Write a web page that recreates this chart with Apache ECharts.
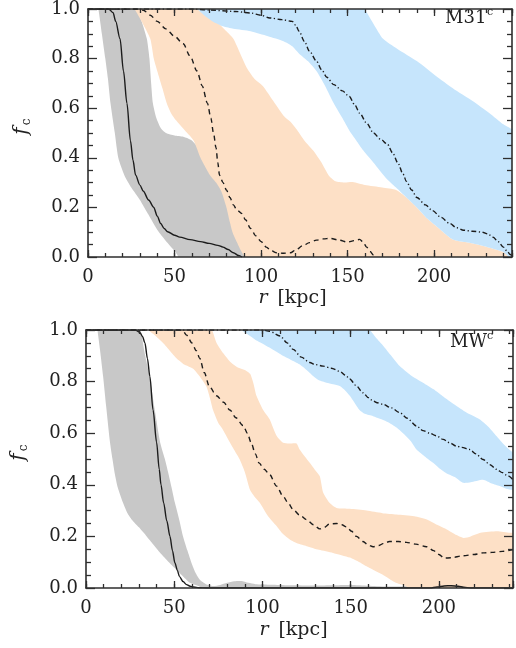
<!DOCTYPE html>
<html><head><meta charset="utf-8">
<script src="https://cdn.jsdelivr.net/npm/echarts@6/dist/echarts.min.js"></script>
<style>html,body{margin:0;padding:0;background:#fff}#c{width:516px;height:648px}</style>
</head><body><div id="c"></div>
<script>
// ---------- tick labels ----------
const xMajorTicks = [0, 50, 100, 150, 200];
const yMajorTicks = [0.0, 0.2, 0.4, 0.6, 0.8, 1.0];
const panelNames = ['M31', 'MW'];

// ---------- M31 panel (top) ----------
const m31Solid = [[0,1],[12,1],[14.5,0.985],[16,0.95],[18.5,0.88],[20.5,0.75],[22.5,0.62],[24.5,0.47],[26,0.39],[27.5,0.33],[30,0.29],[32,0.265],[35,0.23],[38,0.2],[40,0.165],[42,0.135],[44,0.115],[46,0.102],[50,0.088],[53,0.08],[59,0.07],[65,0.062],[70,0.055],[75,0.047],[78,0.04],[81,0.03],[84,0.017],[87,0.006],[89,0]];
const m31Dashed = [[0,1],[28,1],[32,0.995],[36,0.975],[40,0.95],[45,0.92],[50,0.89],[55,0.86],[59,0.81],[63,0.75],[66,0.69],[69,0.62],[71,0.56],[72.5,0.5],[74,0.44],[75,0.38],[76,0.33],[78,0.3],[80,0.27],[82,0.24],[84,0.21],[86,0.19],[89,0.175],[91,0.15],[94,0.115],[97,0.085],[100,0.062],[103,0.04],[106,0.025],[109,0.017],[113,0.015],[117,0.017],[120,0.028],[124,0.045],[128,0.058],[132,0.068],[136,0.073],[140,0.075],[145,0.068],[150,0.06],[154,0.066],[157,0.071],[159,0.06],[161,0.04],[163,0.022],[165,0.008],[167,0]];
const m31DashDot = [[0,1],[60,1],[70,0.996],[85,0.99],[94,0.984],[100,0.975],[105,0.964],[112,0.957],[118,0.95],[120,0.935],[122,0.91],[125,0.87],[128,0.83],[132,0.79],[135,0.755],[138,0.725],[142,0.695],[147,0.67],[151,0.647],[154,0.615],[157,0.58],[161,0.54],[165,0.5],[169,0.475],[173,0.455],[176,0.42],[179,0.38],[182,0.335],[184,0.305],[187,0.27],[190,0.24],[195,0.21],[199,0.187],[204,0.16],[209,0.135],[213,0.118],[217,0.108],[222,0.104],[228,0.1],[231,0.093],[234,0.08],[237,0.062],[240,0.04],[242,0.025],[244,0.01],[245,0.005]];
const m31GrayUpper = [[-2,1.02],[26,1.02],[28,1.0],[31,0.95],[34,0.88],[35.5,0.8],[36.5,0.7],[37.5,0.62],[39.5,0.56],[42,0.52],[45,0.5],[50,0.49],[55,0.485],[60,0.47],[66,0.42],[72,0.35],[78,0.28],[84,0.2],[88,0.12],[91,0.05],[93,-0.02]];
const m31GrayLower = [[-2,1.02],[5,1.02],[6,1.0],[8,0.9],[10,0.8],[11.5,0.72],[13,0.62],[15.5,0.5],[17.5,0.4],[21,0.33],[25,0.28],[30,0.23],[35,0.17],[40,0.11],[45,0.065],[50,0.025],[55,-0.02]];
const m31OrangeUpper = [[20,1.02],[66,1.02],[68,0.99],[74.5,0.95],[80,0.91],[84,0.88],[88,0.82],[92,0.76],[96,0.72],[101,0.69],[107,0.63],[113,0.57],[117,0.545],[121,0.51],[125,0.47],[130,0.43],[135,0.38],[139,0.33],[143,0.305],[148,0.3],[153,0.302],[160,0.29],[170,0.28],[178,0.27],[184,0.24],[190,0.2],[196,0.155],[202,0.12],[207,0.09],[211,0.07],[218,0.06],[225,0.05],[233,0.035],[240,0.02],[247,0.0],[247,-0.02]];
const m31OrangeLower = [[20,1.02],[26,1.02],[27,1.0],[31,0.95],[36,0.88],[38,0.8],[40,0.75],[43,0.68],[45.5,0.62],[48,0.58],[51,0.55],[56,0.51],[61,0.47],[65,0.4],[68,0.36],[70.5,0.33],[74,0.3],[77,0.265],[80,0.2],[82,0.14],[83.5,0.1],[86,0.06],[88,0.03],[90,0.005],[92,-0.02]];
const m31BlueUpper = [[60,1.02],[159,1.02],[160,1.0],[165,0.94],[170.5,0.88],[178.6,0.84],[190,0.79],[202,0.725],[213,0.67],[222,0.63],[232,0.58],[240,0.535],[247,0.5]];
const m31BlueLower = [[60,1.02],[63,1.0],[68,0.97],[72,0.95],[78,0.93],[84,0.92],[94,0.91],[104,0.89],[113,0.87],[118,0.85],[122,0.82],[127,0.79],[132,0.75],[137,0.69],[142,0.62],[147,0.56],[151,0.51],[155,0.47],[159,0.43],[165,0.38],[172,0.32],[178,0.28],[184,0.24],[190,0.2],[196,0.155],[202,0.12],[207,0.09],[211,0.07],[218,0.06],[225,0.05],[233,0.035],[240,0.02],[247,-0.02]];

// ---------- MW panel (bottom) ----------
const mwSolid = [[0,1],[28,1],[30.6,0.99],[32,0.975],[33.4,0.95],[34.8,0.89],[36.2,0.82],[38,0.69],[40,0.565],[41.5,0.46],[42.5,0.4],[44,0.33],[45.8,0.26],[47.6,0.2],[49,0.145],[50.4,0.097],[51.8,0.068],[53,0.044],[55,0.025],[57,0.013],[59,0.007],[61,0.004],[64,0.001],[68,0],[195,0],[199,0.004],[203,0.008],[207,0.009],[211,0.007],[214,0.003],[218,0],[242,0]];
const mwDashed = [[0,1],[53,1],[55,0.995],[57,0.98],[60,0.95],[62.5,0.92],[64.5,0.89],[67,0.835],[70,0.78],[74,0.745],[78,0.72],[81.5,0.69],[85,0.66],[89,0.63],[91.5,0.6],[93.5,0.565],[96,0.52],[98,0.485],[101,0.46],[104,0.44],[108,0.395],[111.7,0.356],[114.5,0.33],[117.4,0.304],[121,0.283],[125,0.265],[129,0.245],[132.5,0.229],[135,0.235],[138,0.248],[142,0.25],[145,0.245],[147.6,0.237],[150.5,0.22],[153.3,0.2],[157,0.18],[160,0.166],[162.7,0.16],[166,0.165],[169,0.174],[172,0.18],[177,0.18],[181.6,0.177],[187,0.17],[193,0.16],[197,0.145],[200,0.13],[203,0.116],[207,0.117],[213.6,0.125],[220,0.13],[225,0.136],[230,0.138],[236,0.142],[242,0.149]];
const mwDashDot = [[0,1],[100,1],[104,0.995],[110,0.977],[114,0.95],[117.4,0.925],[122,0.895],[126.8,0.874],[130,0.866],[134.4,0.86],[139,0.852],[143.8,0.84],[147,0.825],[149.5,0.81],[153,0.785],[157,0.757],[160,0.738],[162.7,0.725],[165,0.718],[168.3,0.712],[173,0.698],[177.8,0.68],[182,0.658],[187.3,0.628],[191,0.61],[194.8,0.6],[198.5,0.59],[202.4,0.576],[206,0.563],[209.9,0.55],[213,0.545],[217.4,0.537],[221,0.52],[225,0.498],[229,0.478],[232.6,0.46],[236,0.447],[239,0.435],[242,0.42]];
const mwGrayUpper = [[-2,1.02],[29.6,1.02],[31,1.0],[33,0.92],[36,0.82],[39,0.69],[42,0.565],[44.7,0.5],[46.5,0.45],[48.5,0.39],[50.4,0.33],[53,0.26],[55,0.2],[57.5,0.145],[59.8,0.097],[62,0.06],[64.5,0.032],[68,0.015],[72,0.008],[76,0.012],[80,0.02],[84,0.026],[88,0.027],[92,0.02],[96,0.015],[105,0.013],[115,0.011],[130,0.01],[140,0.011],[150,0.012],[160,0.009],[170,0.006],[185,0.007],[200,0.01],[210,0.012],[220,0.007],[230,0.004],[244,0.003],[244,-0.02]];
const mwGrayLower = [[-2,1.02],[6,1.02],[6.5,1.0],[8,0.92],[9.7,0.82],[11.5,0.7],[13.6,0.565],[15,0.5],[16.4,0.44],[18,0.39],[21,0.33],[23.5,0.29],[26,0.265],[30,0.235],[34.4,0.2],[38,0.17],[42,0.137],[47,0.1],[51.4,0.07],[55,0.045],[59,0.02],[64.5,0.005],[68,-0.02]];
const mwOrangeUpper = [[25,1.02],[70,1.02],[71.5,1.0],[74,0.95],[77.8,0.91],[82,0.875],[86,0.855],[90,0.845],[93,0.83],[95,0.79],[96.6,0.745],[100.4,0.69],[104,0.655],[108,0.59],[111.7,0.563],[115,0.56],[119.3,0.56],[121,0.538],[124,0.51],[126.8,0.485],[129.5,0.46],[132.5,0.433],[134.4,0.37],[138,0.33],[142,0.31],[149.5,0.307],[159,0.3],[168,0.29],[176,0.285],[186,0.278],[193.5,0.265],[199,0.245],[204.8,0.226],[210,0.205],[214,0.194],[218,0.2],[223.6,0.214],[233,0.22],[240.4,0.214],[246,0.21],[246,-0.02]];
const mwOrangeLower = [[25,1.02],[34.4,1.02],[35.5,1.0],[39,0.98],[43.7,0.95],[47.5,0.92],[51.4,0.89],[56,0.865],[60.7,0.85],[64.5,0.82],[68.3,0.78],[70.5,0.73],[72,0.69],[75,0.64],[77,0.62],[81.5,0.565],[84,0.535],[87,0.5],[90,0.45],[93,0.38],[96,0.35],[98.5,0.33],[103,0.28],[108,0.24],[111.5,0.21],[115.5,0.188],[120,0.172],[125,0.162],[132,0.148],[140,0.136],[149.5,0.118],[155,0.1],[159,0.084],[164,0.066],[168,0.052],[172,0.035],[176,0.019],[181.6,0.006],[186,-0.02]];
const mwBlueUpper = [[85,1.02],[159,1.02],[161,1.0],[165,0.965],[168.3,0.94],[173,0.9],[177.8,0.86],[184,0.825],[191,0.796],[197,0.77],[202,0.744],[209,0.71],[215.6,0.68],[223,0.654],[228,0.625],[232.6,0.589],[237,0.555],[242,0.524],[247,0.5]];
const mwBlueLower = [[85,1.02],[88,1.0],[93,0.977],[97,0.958],[102.3,0.938],[107,0.92],[111.7,0.9],[116,0.885],[121,0.867],[125,0.845],[128.7,0.822],[132,0.805],[136.3,0.796],[140,0.79],[143.8,0.783],[147,0.765],[149.5,0.745],[152,0.72],[155,0.69],[158,0.675],[162.7,0.666],[167,0.655],[172,0.64],[176,0.622],[179.7,0.6],[184,0.57],[187.3,0.537],[192,0.51],[196.7,0.485],[200,0.465],[204,0.446],[209,0.43],[213.6,0.408],[218,0.41],[225,0.42],[230,0.405],[234.4,0.395],[238,0.385],[242,0.38],[247,0.372]];

// ---------- styling ----------
const FONT = 'DejaVu Serif';
const AX = '#2e2e2e';
const GRAY = '#c8c8c8', ORANGE = '#fde0c6', BLUE = '#c6e5fc', INK = '#1c1c1c';
const grids = [
  {left: 88, top: 4, width: 424, height: 253},
  {left: 86, top: 330, width: 427, height: 258}
];
const xMax = [245, 242];
const AZ = 8;

const xAxes = [], yAxes = [];
grids.forEach((g, gi) => {
  const base = {gridIndex: gi, type: 'value', min: 0, max: xMax[gi], splitLine: {show: false}, z: AZ};
  xAxes.push(Object.assign({}, base, {position: 'bottom', interval: 50,
    axisLine: {show: true, onZero: false, lineStyle: {color: AX, width: 1.6}},
    axisTick: {show: true, inside: true, length: 7, lineStyle: {color: AX, width: 1.3}},
    axisLabel: {show: true, margin: 11, color: '#222', fontFamily: FONT, fontSize: 18,
      formatter: v => (xMajorTicks.indexOf(v) >= 0 ? String(v) : '')}}));
  xAxes.push(Object.assign({}, base, {position: 'bottom', interval: 10,
    axisLine: {show: false, onZero: false},
    axisTick: {show: true, inside: true, length: 4, lineStyle: {color: AX, width: 1.3}},
    axisLabel: {show: false}}));
  xAxes.push(Object.assign({}, base, {position: 'top', interval: 50,
    axisLine: {show: true, onZero: false, lineStyle: {color: AX, width: 1.6}},
    axisTick: {show: true, inside: true, length: 7, lineStyle: {color: AX, width: 1.3}},
    axisLabel: {show: false}}));
  xAxes.push(Object.assign({}, base, {position: 'top', interval: 10,
    axisLine: {show: false, onZero: false},
    axisTick: {show: true, inside: true, length: 4, lineStyle: {color: AX, width: 1.3}},
    axisLabel: {show: false}}));
  const ybase = {gridIndex: gi, type: 'value', min: 0, max: 1, interval: 0.2, splitLine: {show: false}, z: AZ,
    minorTick: {show: true, splitNumber: 4, length: 5, lineStyle: {color: AX, width: 1.3}}};
  yAxes.push(Object.assign({}, ybase, {position: 'left',
    axisLine: {show: true, onZero: false, lineStyle: {color: AX, width: 1.6}},
    axisTick: {show: true, inside: true, length: 9, lineStyle: {color: AX, width: 1.3}},
    axisLabel: {show: true, margin: 8, color: '#222', fontFamily: FONT, fontSize: 18,
      formatter: v => yMajorTicks.some(t => Math.abs(t - v) < 1e-6) ? v.toFixed(1) : ''}}));
  yAxes.push(Object.assign({}, ybase, {position: 'right',
    axisLine: {show: true, onZero: false, lineStyle: {color: AX, width: 1.6}},
    axisTick: {show: true, inside: true, length: 9, lineStyle: {color: AX, width: 1.3}},
    axisLabel: {show: false}}));
});

function band(gi, upper, lower, color) {
  const pts = upper.concat(lower.slice().reverse());
  return {
    type: 'custom', xAxisIndex: gi * 4, yAxisIndex: gi * 2, silent: true, z: 1,
    data: pts,
    renderItem: (params, api) => {
      if (params.dataIndex !== 0) return null;
      const cs = params.coordSys;
      return {
        type: 'polygon',
        shape: {points: pts.map(p => api.coord(p)), smooth: 0.2},
        style: {fill: color, stroke: null},
        clipPath: {type: 'rect', shape: {x: cs.x, y: cs.y, width: cs.width, height: cs.height}}
      };
    }
  };
}
function curve(gi, data, dash) {
  return {
    type: 'line', xAxisIndex: gi * 4, yAxisIndex: gi * 2, data: data, silent: true, z: 5,
    symbol: 'none', showSymbol: false, smooth: 0.3, smoothMonotone: 'x', clip: true,
    lineStyle: {color: INK, width: 1.4, type: dash}
  };
}

const series = [
  band(0, m31GrayUpper, m31GrayLower, GRAY),
  band(0, m31OrangeUpper, m31OrangeLower, ORANGE),
  band(0, m31BlueUpper, m31BlueLower, BLUE),
  curve(0, m31Solid, 'solid'),
  curve(0, m31Dashed, [5, 4]),
  curve(0, m31DashDot, [5, 2.5, 1.2, 2.5]),
  band(1, mwGrayUpper, mwGrayLower, GRAY),
  band(1, mwOrangeUpper, mwOrangeLower, ORANGE),
  band(1, mwBlueUpper, mwBlueLower, BLUE),
  curve(1, mwSolid, 'solid'),
  curve(1, mwDashed, [5, 4]),
  curve(1, mwDashDot, [5, 2.5, 1.2, 2.5])
];

function fLabel(x, y) {
  return {type: 'group', x: x, y: y, rotation: Math.PI / 2, z: 10, children: [
    {type: 'text', x: 0, y: 0, style: {text: 'f', font: 'italic 20px "DejaVu Serif"', fill: '#222', align: 'center', verticalAlign: 'middle'}},
    {type: 'text', x: 9, y: 5, style: {text: 'c', font: '12px "DejaVu Serif"', fill: '#222', align: 'center', verticalAlign: 'middle'}}
  ]};
}
function rLabel(x, y) {
  return {type: 'group', x: x, y: y, z: 10, children: [
    {type: 'text', x: -36, y: 0, style: {text: 'r', font: 'italic 19px "DejaVu Serif"', fill: '#222', align: 'center', verticalAlign: 'middle'}},
    {type: 'text', x: 3, y: 0, style: {text: '[kpc]', font: '19px "DejaVu Serif"', fill: '#222', align: 'center', verticalAlign: 'middle'}}
  ]};
}
function panelLabel(x, y, name, supX) {
  return {type: 'group', x: x, y: y, z: 10, children: [
    {type: 'text', x: 0, y: 0, style: {text: name, font: '18px "DejaVu Serif"', fill: '#222', align: 'left', verticalAlign: 'middle'}},
    {type: 'text', x: supX, y: -6, style: {text: 'c', font: '11px "DejaVu Serif"', fill: '#222', align: 'left', verticalAlign: 'middle'}}
  ]};
}

const chart = echarts.init(document.getElementById('c'), null, {renderer: 'canvas'});
chart.setOption({
  animation: false,
  backgroundColor: '#fff',
  grid: grids,
  xAxis: xAxes,
  yAxis: yAxes,
  series: series,
  graphic: [
    fLabel(22, 131), fLabel(19, 457),
    rLabel(299, 298), rLabel(300, 630),
    panelLabel(445, 18, panelNames[0], 42), panelLabel(450, 342, panelNames[1], 37)
  ]
});
</script>
</body></html>
